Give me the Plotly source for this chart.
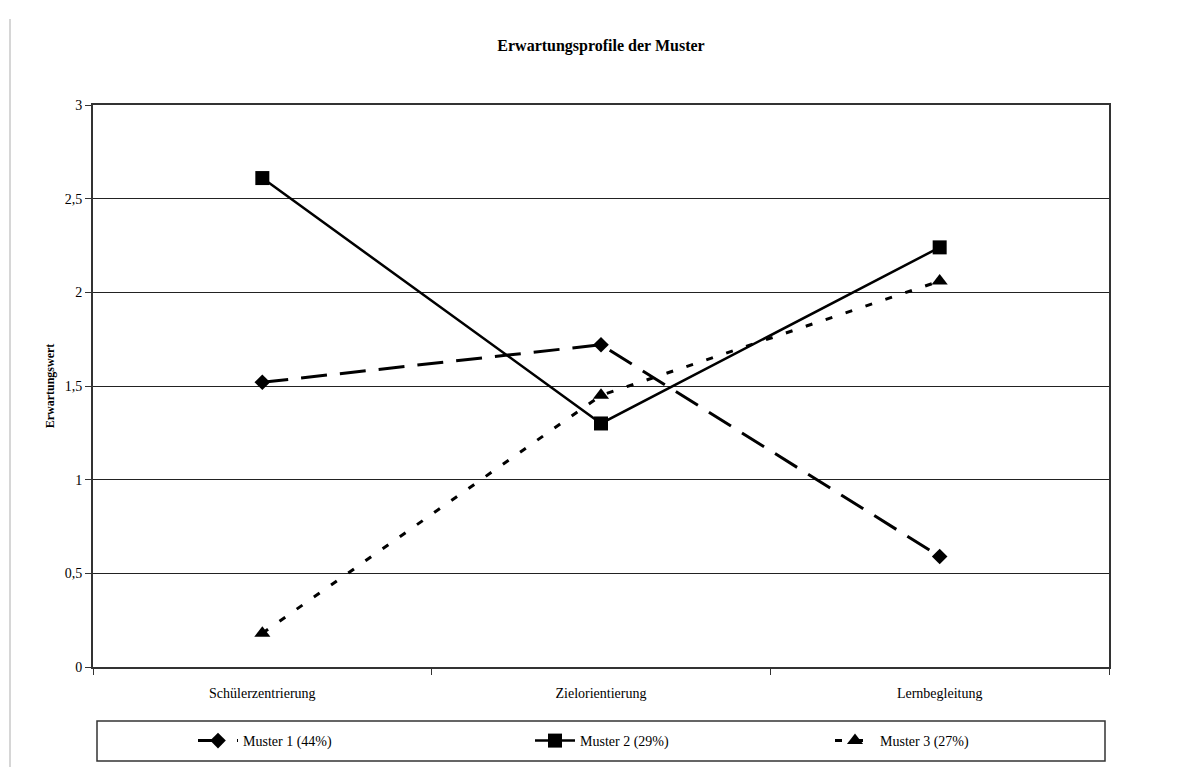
import plotly.graph_objects as go

categories = ["Schülerzentrierung", "Zielorientierung", "Lernbegleitung"]
muster1 = [1.52, 1.72, 0.59]
muster2 = [2.61, 1.30, 2.24]
muster3 = [0.18, 1.45, 2.06]
names = ["Muster 1 (44%)", "Muster 2 (29%)", "Muster 3 (27%)"]
y_ticks = [0, 0.5, 1, 1.5, 2, 2.5, 3]
y_ticktext = ["0", "0,5", "1", "1,5", "2", "2,5", "3"]

font = "Liberation Serif, Times New Roman, serif"

# page offset of the figure (body margin)
OFF = 8
W, H = 1192, 759
PL, PR, PT, PB = 93 - OFF, 1109 - OFF, 105 - OFF, 667 - OFF
PW, PH = PR - PL, PB - PT


def px(x):
    return (x - OFF - PL) / PW


def py(y):
    return (PB - (y - OFF)) / PH


fig = go.Figure()
fig.add_trace(go.Scatter(x=categories, y=muster1, name=names[0], mode="lines+markers",
                         legend="legend",
                         line=dict(color="black", width=3, dash="26px,13px"),
                         marker=dict(symbol="diamond", size=12, color="black")))
fig.add_trace(go.Scatter(x=categories, y=muster2, name=names[1], mode="lines+markers",
                         legend="legend2",
                         line=dict(color="black", width=2.5),
                         marker=dict(symbol="square", size=14, color="black")))
fig.add_trace(go.Scatter(x=categories, y=muster3, name=names[2], mode="lines+markers",
                         legend="legend3",
                         line=dict(color="black", width=3, dash="7px,14px"),
                         marker=dict(symbol="triangle-up", size=14, color="black")))


def leg(xpage):
    return dict(orientation="h", x=px(xpage), xanchor="left", y=py(741), yanchor="middle",
                bgcolor="rgba(0,0,0,0)", borderwidth=0,
                font=dict(size=14, family=font), itemwidth=40)


fig.update_layout(
    width=W, height=H,
    margin=dict(l=PL, r=W - PR, t=PT, b=H - PB, autoexpand=False),
    paper_bgcolor="white", plot_bgcolor="white",
    font=dict(family=font, size=14, color="black"),
    title=dict(text="<b>Erwartungsprofile der Muster</b>", x=px(601), xanchor="center",
               y=1 - (45 - OFF) / H, yanchor="middle", xref="paper",
               font=dict(size=16, family=font)),
    showlegend=True,
    legend=leg(193), legend2=leg(530), legend3=leg(830),
    xaxis=dict(type="category", tickson="boundaries", ticks="outside", ticklen=6,
               tickcolor="#333", showline=True, linecolor="#333", linewidth=2,
               mirror=True, showgrid=False, ticklabelstandoff=12,
               tickfont=dict(size=14, family=font), range=[-0.5, 2.5]),
    yaxis=dict(range=[0, 3], tickvals=y_ticks, ticktext=y_ticktext, ticks="outside",
               ticklen=6, tickcolor="#333", showline=True, linecolor="#333",
               linewidth=2, mirror=True, showgrid=True, gridcolor="#222",
               gridwidth=1, zeroline=False, tickfont=dict(size=14, family=font),
               title=dict(text="<b>Erwartungswert</b>", standoff=8,
                          font=dict(size=12, family=font))),
)

# legend frame
fig.add_shape(type="rect", xref="paper", yref="paper",
              x0=px(97), x1=px(1105), y0=py(761), y1=py(721),
              line=dict(color="#333", width=1.5), fillcolor="rgba(0,0,0,0)")
# chart frame left edge
fig.add_shape(type="line", xref="paper", yref="paper",
              x0=px(10), x1=px(10), y0=py(767), y1=py(19),
              line=dict(color="#c8c8c8", width=1.5))

fig.write_html("out.html")
